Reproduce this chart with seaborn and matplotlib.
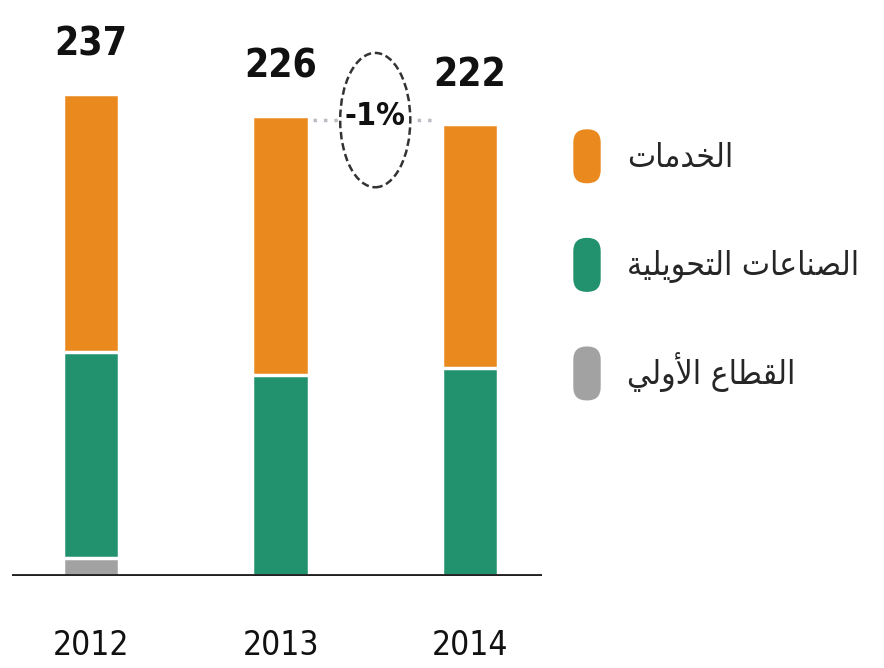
import matplotlib
matplotlib.use("Agg")
import matplotlib.pyplot as plt
import seaborn as sns
import numpy as np
from matplotlib.patches import Ellipse, FancyBboxPatch, Patch
from matplotlib.legend_handler import HandlerPatch

years = ["2012", "2013", "2014"]
services = [127, 127, 120]
manufacturing = [101, 99, 102]
primary = [9, 0, 0]
change_label = "-1%"
sector_labels = ["الخدمات", "الصناعات التحويلية", "القطاع الأولي"]

ORANGE = "#EA891E"
GREEN = "#21916E"
GRAY = "#A2A2A2"

# tiny arabic shaper (matplotlib has no bidi / shaping)
FORMS = {
    "ا": ("\uFE8D", "\uFE8E", None, None),
    "أ": ("\uFE83", "\uFE84", None, None),
    "د": ("\uFEA9", "\uFEAA", None, None),
    "و": ("\uFEED", "\uFEEE", None, None),
    "ة": ("\uFE93", "\uFE94", None, None),
    "ل": ("\uFEDD", "\uFEDE", "\uFEDF", "\uFEE0"),
    "خ": ("\uFEA5", "\uFEA6", "\uFEA7", "\uFEA8"),
    "م": ("\uFEE1", "\uFEE2", "\uFEE3", "\uFEE4"),
    "ت": ("\uFE95", "\uFE96", "\uFE97", "\uFE98"),
    "ص": ("\uFEB9", "\uFEBA", "\uFEBB", "\uFEBC"),
    "ن": ("\uFEE5", "\uFEE6", "\uFEE7", "\uFEE8"),
    "ع": ("\uFEC9", "\uFECA", "\uFECB", "\uFECC"),
    "ح": ("\uFEA1", "\uFEA2", "\uFEA3", "\uFEA4"),
    "ي": ("\uFEF1", "\uFEF2", "\uFEF3", "\uFEF4"),
    "ق": ("\uFED5", "\uFED6", "\uFED7", "\uFED8"),
    "ط": ("\uFEC1", "\uFEC2", "\uFEC3", "\uFEC4"),
}
LAM_ALEF = {"ا": ("\uFEFB", "\uFEFC"), "أ": ("\uFEF7", "\uFEF8")}


def joins_next(c):
    return c in FORMS and FORMS[c][2] is not None


def shape(text):
    out = []
    i = 0
    while i < len(text):
        c = text[i]
        if c not in FORMS:
            out.append(c)
            i += 1
            continue
        prev_joins = i > 0 and joins_next(text[i - 1])
        if c == "ل" and i + 1 < len(text) and text[i + 1] in LAM_ALEF:
            iso, fin = LAM_ALEF[text[i + 1]]
            out.append(fin if prev_joins else iso)
            i += 2
            continue
        nxt_ok = i + 1 < len(text) and text[i + 1] in FORMS
        iso, fin, ini, med = FORMS[c]
        if prev_joins and joins_next(c) and nxt_ok:
            out.append(med)
        elif prev_joins:
            out.append(fin)
        elif joins_next(c) and nxt_ok:
            out.append(ini)
        else:
            out.append(iso)
        i += 1
    return "".join(reversed(out))


sns.set_style("white")
plt.rcParams["font.family"] = ["DejaVu Sans"]
plt.rcParams["font.stretch"] = "condensed"

totals = np.array(services) + np.array(manufacturing) + np.array(primary)
lower = np.array(manufacturing) + np.array(primary)

fig = plt.figure(figsize=(8.84, 6.68), dpi=100)
ax = fig.add_axes([12 / 884, 1 - 576 / 668, 530 / 884, 576 / 668])

bar_w = 0.3
sns.barplot(x=years, y=totals, color=ORANGE, saturation=1, width=bar_w,
            errorbar=None, edgecolor="white", linewidth=2.5, ax=ax)
sns.barplot(x=years, y=lower, color=GREEN, saturation=1, width=bar_w,
            errorbar=None, edgecolor="white", linewidth=2.5, ax=ax)
sns.barplot(x=years, y=primary, color=GRAY, saturation=1, width=bar_w,
            errorbar=None, edgecolor="white", linewidth=2.5, ax=ax)

ax.axhline(0, color="#222222", lw=3.5, zorder=5)

for i, t in enumerate(totals):
    ax.annotate(str(t), (i, t), xytext=(0, 22), textcoords="offset points",
                ha="center", va="bottom", fontsize=28, fontweight="bold",
                fontstretch="condensed", color="#111111")

# change marker between 2013 and 2014
mid_y = (totals[1] + totals[2]) / 2
ax.plot([1 + bar_w / 2 + 0.02, 2 - bar_w / 2 - 0.02], [mid_y, mid_y],
        ls=(0, (1, 2)), color="#B8BEC4", lw=2.5, zorder=2)
ax.add_patch(Ellipse((1.5, mid_y), 0.37, 66, facecolor="white",
                     edgecolor="#333333", lw=1.8, ls=(0, (3, 1.5)), zorder=3))
ax.text(1.5, mid_y + 2, change_label, ha="center", va="center", fontsize=23,
        fontweight="bold", fontstretch="condensed", color="#111111", zorder=4)

ax.set_xlim(-0.417, 2.38)
ax.set_ylim(0, 283)
ax.set_yticks([])
ax.set_xlabel("")
ax.set_ylabel("")
ax.tick_params(axis="x", length=0, pad=38)
for lab in ax.get_xticklabels():
    lab.set_fontsize(24)
    lab.set_fontstretch("condensed")
    lab.set_color("#111111")
sns.despine(ax=ax, left=True, bottom=True)


def round_patch(legend, orig_handle, xdescent, ydescent, width, height, fontsize):
    return FancyBboxPatch((-xdescent, -ydescent), width, height,
                          boxstyle="round,pad=0,rounding_size=9",
                          facecolor=orig_handle.get_facecolor(), edgecolor="none")


handles = [Patch(color=c) for c in [ORANGE, GREEN, GRAY]]
fig.legend(handles, [shape(s) for s in sector_labels],
           loc="upper left", bbox_to_anchor=(574 / 884, 1 - 130 / 668),
           frameon=False, handlelength=0.78, handleheight=2.05,
           handletextpad=0.82, labelspacing=1.68, borderpad=0, borderaxespad=0,
           handler_map={Patch: HandlerPatch(patch_func=round_patch)},
           prop={"family": "DejaVu Sans", "size": 24})

fig.savefig("out.png", dpi=100)
